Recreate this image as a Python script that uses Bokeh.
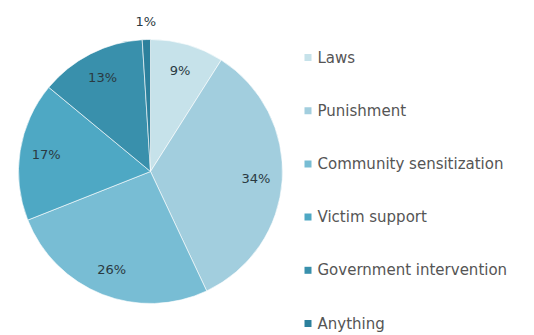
import math
from bokeh.plotting import figure
from bokeh.models import Range1d, ColumnDataSource
from bokeh.core.properties import value
from bokeh.embed import file_html
from bokeh.resources import INLINE

categories = ["Laws", "Punishment", "Community sensitization", "Victim support",
              "Government intervention", "Anything"]
percents = [9, 34, 26, 17, 13, 1]
colors = ["#c6e2ea", "#a2cede", "#78bdd4", "#4ea8c4", "#3990ac", "#2c809c"]

W, H = 534, 335
p = figure(width=W, height=H, output_backend="svg", toolbar_location=None,
           x_range=Range1d(0, W), y_range=Range1d(0, H), min_border=0)
p.axis.visible = False
p.grid.visible = False
p.outline_line_color = None
p.background_fill_color = "white"
p.border_fill_color = "white"

cx, cy, R = 150, H - 171, 132
total = sum(percents)
starts, ends, lx, ly, labels = [], [], [], [], []
cum = 0.0
for v in percents:
    a0 = math.pi / 2 - 2 * math.pi * cum / total
    a1 = math.pi / 2 - 2 * math.pi * (cum + v) / total
    starts.append(a0)
    ends.append(a1)
    mid = (a0 + a1) / 2
    rr = R * (1.14 if v < 3 else 0.80)
    lx.append(cx + rr * math.cos(mid))
    ly.append(cy + rr * math.sin(mid))
    labels.append(f"{v}%")
    cum += v

src = ColumnDataSource(dict(start=starts, end=ends, color=colors, lx=lx, ly=ly, lab=labels))
p.wedge(x=cx, y=cy, radius=R, start_angle="start", end_angle="end", direction="clock",
        fill_color="color", line_color="white", line_width=1, line_alpha=0.6, source=src)
p.text(x="lx", y="ly", text="lab", source=src, text_align="center", text_baseline="middle",
       text_font=value("DejaVu Sans"), text_font_size="13px", text_color="#2a3a42")

# legend
ys = [H - 57 - 53.2 * i for i in range(len(categories))]
lsrc = ColumnDataSource(dict(x=[307.5] * len(categories), y=ys, color=colors, name=categories,
                             tx=[317] * len(categories)))
p.scatter(x="x", y="y", marker="square", size=7, fill_color="color", line_color=None, source=lsrc)
p.text(x="tx", y="y", text="name", source=lsrc, text_align="left", text_baseline="middle",
       text_font=value("DejaVu Sans"), text_font_size="15px", text_color="#555555")

open("out.html", "w").write(file_html(p, INLINE))
